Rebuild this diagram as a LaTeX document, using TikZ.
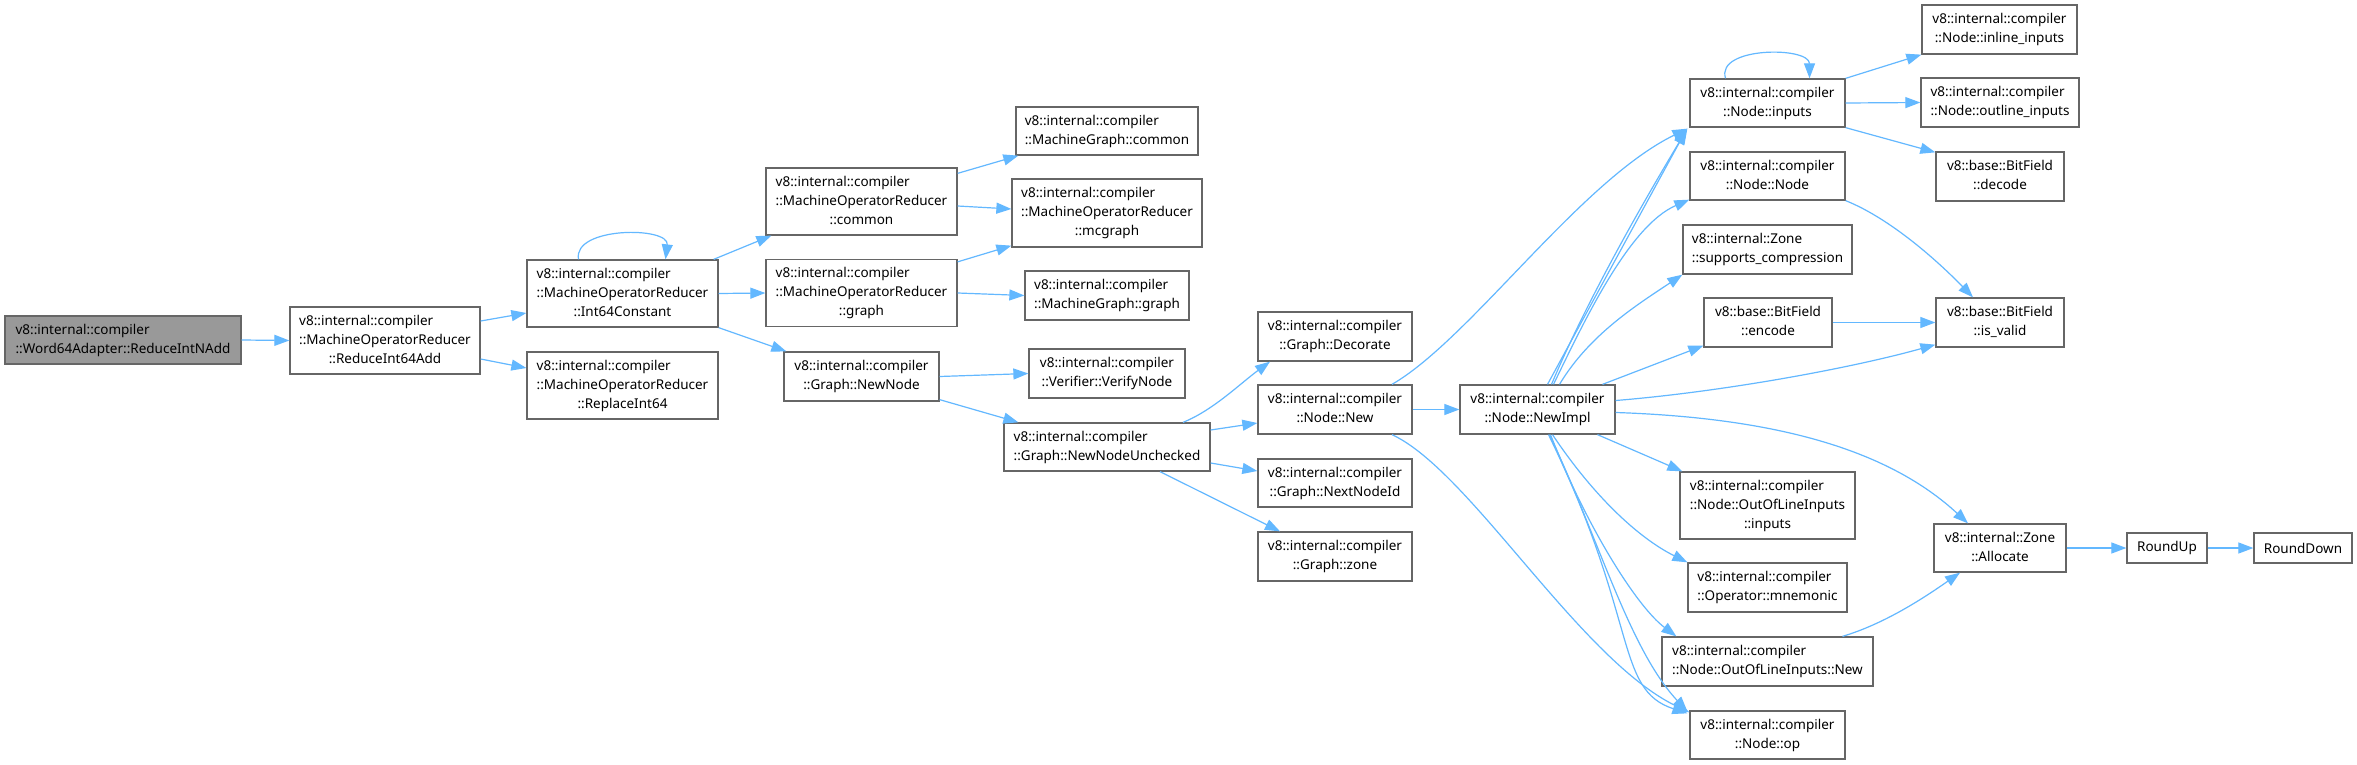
\documentclass[tikz,border=0pt]{standalone}
\usepackage{fontspec}
\setmainfont{Noto Sans}
\usetikzlibrary{arrows.meta}
\definecolor{edgeblue}{HTML}{63B8FF}
\definecolor{boxgray}{HTML}{666666}
\definecolor{rootgray}{HTML}{999999}
\newcommand\Lb[2]{\begin{tabular}{@{}l@{}}#1\\\multicolumn{1}{@{}c@{}}{#2}\end{tabular}}
\newcommand\Lc[3]{\begin{tabular}{@{}l@{}}#1\\#2\\\multicolumn{1}{@{}c@{}}{#3}\end{tabular}}
\tikzset{
  nbox/.style={draw=boxgray, fill=white, line width=1.3pt, inner sep=0pt, rectangle,
    font=\fontsize{13.5}{19}\selectfont, text=black},
  rootbox/.style={nbox, fill=rootgray},
  edge/.style={draw=edgeblue, line width=1.2pt, -{Triangle[length=15pt,width=11pt]}}
}
\begin{document}
\begin{tikzpicture}[x=1pt,y=-1pt]
\useasboundingbox (0,0) rectangle (2357,765);
\fill[white] (0,0) rectangle (2357,765);
% nodes
\node[rootbox, minimum width=236, minimum height=48] (a) at (123,340) {\Lb{v8::internal::compiler}{::Word64Adapter::ReduceIntNAdd}};
\node[nbox, minimum width=190, minimum height=67] (b) at (385,340.5) {\Lc{v8::internal::compiler}{::MachineOperatorReducer}{::ReduceInt64Add}};
\node[nbox, minimum width=191, minimum height=67] (c) at (622.5,293.5) {\Lc{v8::internal::compiler}{::MachineOperatorReducer}{::Int64Constant}};
\node[nbox, minimum width=191, minimum height=67] (d) at (622.5,385.5) {\Lc{v8::internal::compiler}{::MachineOperatorReducer}{::ReplaceInt64}};
\node[nbox, minimum width=191, minimum height=67] (e) at (861.5,201.5) {\Lc{v8::internal::compiler}{::MachineOperatorReducer}{::common}};
\node[nbox, minimum width=191, minimum height=67] (f) at (861.5,293) {\Lc{v8::internal::compiler}{::MachineOperatorReducer}{::graph}};
\node[nbox, minimum width=155, minimum height=49] (g) at (861.5,376.5) {\Lb{v8::internal::compiler}{::Graph::NewNode}};
\node[nbox, minimum width=182, minimum height=48] (h) at (1107,131) {\Lb{v8::internal::compiler}{::MachineGraph::common}};
\node[nbox, minimum width=190, minimum height=68] (i) at (1107,213) {\Lc{v8::internal::compiler}{::MachineOperatorReducer}{::mcgraph}};
\node[nbox, minimum width=164, minimum height=49] (j) at (1107,295.5) {\Lb{v8::internal::compiler}{::MachineGraph::graph}};
\node[nbox, minimum width=156, minimum height=49] (k) at (1107,373.5) {\Lb{v8::internal::compiler}{::Verifier::VerifyNode}};
\node[nbox, minimum width=206, minimum height=48] (l) at (1107,447) {\Lb{v8::internal::compiler}{::Graph::NewNodeUnchecked}};
\node[nbox, minimum width=154, minimum height=49] (m) at (1335,336.5) {\Lb{v8::internal::compiler}{::Graph::Decorate}};
\node[nbox, minimum width=154, minimum height=49] (n) at (1335,409.5) {\Lb{v8::internal::compiler}{::Node::New}};
\node[nbox, minimum width=154, minimum height=48] (o) at (1335,483) {\Lb{v8::internal::compiler}{::Graph::NextNodeId}};
\node[nbox, minimum width=154, minimum height=49] (p) at (1335,556.5) {\Lb{v8::internal::compiler}{::Graph::zone}};
\node[nbox, minimum width=155, minimum height=49] (q) at (1537.5,409.5) {\Lb{v8::internal::compiler}{::Node::NewImpl}};
\node[nbox, minimum width=155, minimum height=48] (r) at (1767.5,103) {\Lb{v8::internal::compiler}{::Node::inputs}};
\node[nbox, minimum width=155, minimum height=48] (s) at (1767.5,176) {\Lb{v8::internal::compiler}{::Node::Node}};
\node[nbox, minimum width=169, minimum height=49] (t) at (1767.5,249.5) {\Lb{v8::internal::Zone}{::supports\_compression}};
\node[nbox, minimum width=128, minimum height=49] (u) at (1768,322.5) {\Lb{v8::base::BitField}{::encode}};
\node[nbox, minimum width=175, minimum height=67] (v) at (1767.5,505.5) {\Lc{v8::internal::compiler}{::Node::OutOfLineInputs}{::inputs}};
\node[nbox, minimum width=159, minimum height=49] (w) at (1767.5,587.5) {\Lb{v8::internal::compiler}{::Operator::mnemonic}};
\node[nbox, minimum width=211, minimum height=49] (x) at (1767.5,661.5) {\Lb{v8::internal::compiler}{::Node::OutOfLineInputs::New}};
\node[nbox, minimum width=155, minimum height=48] (y) at (1767.5,735) {\Lb{v8::internal::compiler}{::Node::op}};
\node[nbox, minimum width=155, minimum height=49] (z1) at (1999.5,29.5) {\Lb{v8::internal::compiler}{::Node::inline\_inputs}};
\node[nbox, minimum width=158, minimum height=49] (z2) at (2000,102.5) {\Lb{v8::internal::compiler}{::Node::outline\_inputs}};
\node[nbox, minimum width=128, minimum height=49] (z3) at (2000,176.5) {\Lb{v8::base::BitField}{::decode}};
\node[nbox, minimum width=128, minimum height=49] (z4) at (2000,322.5) {\Lb{v8::base::BitField}{::is\_valid}};
\node[nbox, minimum width=132, minimum height=48] (z5) at (2000,548) {\Lb{v8::internal::Zone}{::Allocate}};
\node[nbox, minimum width=80, minimum height=30] (z6) at (2167,548) {RoundUp};
\node[nbox, minimum width=98, minimum height=30] (z7) at (2303,548) {RoundDown};
% edges
\draw[edge] (a.east) -- (b.west);
\draw[edge] ([shift={(0,-19.5)}]b.east) -- ([shift={(0,19.5)}]c.west);
\draw[edge] ([shift={(0,18.5)}]b.east) -- ([shift={(0,-17.5)}]d.west);
\draw[edge] ([shift={(-44,0)}]c.north) .. controls +(-6,-33) and +(4,-33) .. ([shift={(43,0)}]c.north);
\draw[edge] ([shift={(-5,0)}]c.north east) -- ([shift={(6,0)}]e.south west);
\draw[edge] (c.east) -- (f.west);
\draw[edge] (c.south east) -- ([shift={(3,0)}]g.north west);
\draw[edge] ([shift={(0,6)}]e.north east) -- ([shift={(3,0)}]h.south west);
\draw[edge] ([shift={(0,4.5)}]e.east) -- ([shift={(0,-4)}]i.west);
\draw[edge] ([shift={(0,3)}]f.north east) -- ([shift={(0,-2)}]i.south west);
\draw[edge] (f.east) -- (j.west);
\draw[edge] (g.east) -- (k.west);
\draw[edge] ([shift={(0,-2)}]g.south east) -- ([shift={(15,0)}]l.north west);
\draw[edge] ([shift={(76,0)}]l.north) .. controls +(30,-12) and +(-30,22) .. ([shift={(-65,0)}]m.south);
\draw[edge] ([shift={(0,-17)}]l.east) -- ([shift={(0,13.5)}]n.west);
\draw[edge] ([shift={(0,16)}]l.east) -- ([shift={(0,-12)}]o.west);
\draw[edge] ([shift={(53,0)}]l.south) -- ([shift={(-55,0)}]p.north);
\draw[edge] ([shift={(57,0)}]n.north) .. controls +(78,-45) and +(-108,53) .. ([shift={(-2,1)}]r.south west);
\draw[edge] (n.east) -- (q.west);
\draw[edge] ([shift={(57,0)}]n.south) .. controls +(78,36) and +(-110,-53) .. ([shift={(0,2)}]y.north west);
\draw[edge] ([shift={(10,0)}]q.north) -- ([shift={(-3,2)}]r.south west);
\draw[edge] ([shift={(14,0)}]q.north) .. controls +(40,-95) and +(-30,50) .. ([shift={(-2,1)}]r.south west);
\draw[edge] ([shift={(16,0)}]q.north) .. controls +(31.5,-65) and +(-60,26) .. ([shift={(0,-1)}]s.south west);
\draw[edge] ([shift={(22,0)}]q.north) .. controls +(30,-50) and +(-45,30) .. (t.south west);
\draw[edge] ([shift={(65,0)}]q.north) -- ([shift={(0,-2)}]u.south west);
\draw[edge] ([shift={(0,-9)}]q.east) .. controls +(105,-8.5) and +(-86,24) .. ([shift={(0,-3)}]z4.south west);
\draw[edge] ([shift={(0,3)}]q.east) .. controls +(165,5.5) and +(-78,-72) .. ([shift={(-32,0)}]z5.north);
\draw[edge] ([shift={(60,0)}]q.south) -- ([shift={(3,0)}]v.north west);
\draw[edge] ([shift={(15,0)}]q.south) .. controls +(40,60) and +(-50,-25) .. (w.north west);
\draw[edge] ([shift={(13,0)}]q.south) .. controls +(35,90) and +(-40,-30) .. ([shift={(15,0)}]x.north west);
\draw[edge] ([shift={(11,0)}]q.south) .. controls +(91,186) and +(-73,-24) .. ([shift={(-2,3)}]y.north west);
\draw[edge] ([shift={(12,0)}]q.south) .. controls +(50,106) and +(-58,-62) .. ([shift={(-2,1)}]y.north west);
\draw[edge] ([shift={(-42,0)}]r.north) .. controls +(-10,-32) and +(0,-32) .. ([shift={(42,0)}]r.north);
\draw[edge] (r.north east) -- (z1.south west);
\draw[edge] (r.east) -- (z2.west);
\draw[edge] (r.south east) -- ([shift={(0,1)}]z3.north west);
\draw[edge] (s.south east) .. controls +(45,18) and +(-35,-36) .. ([shift={(-27,0)}]z4.north);
\draw[edge] (u.east) -- (z4.west);
\draw[edge] ([shift={(75,0)}]x.north) .. controls +(40,-12) and +(-40,28) .. ([shift={(-40,0)}]z5.south);
\draw[edge] (z5.east) -- (z6.west);
\draw[edge] (z6.east) -- (z7.west);
\end{tikzpicture}
\end{document}
